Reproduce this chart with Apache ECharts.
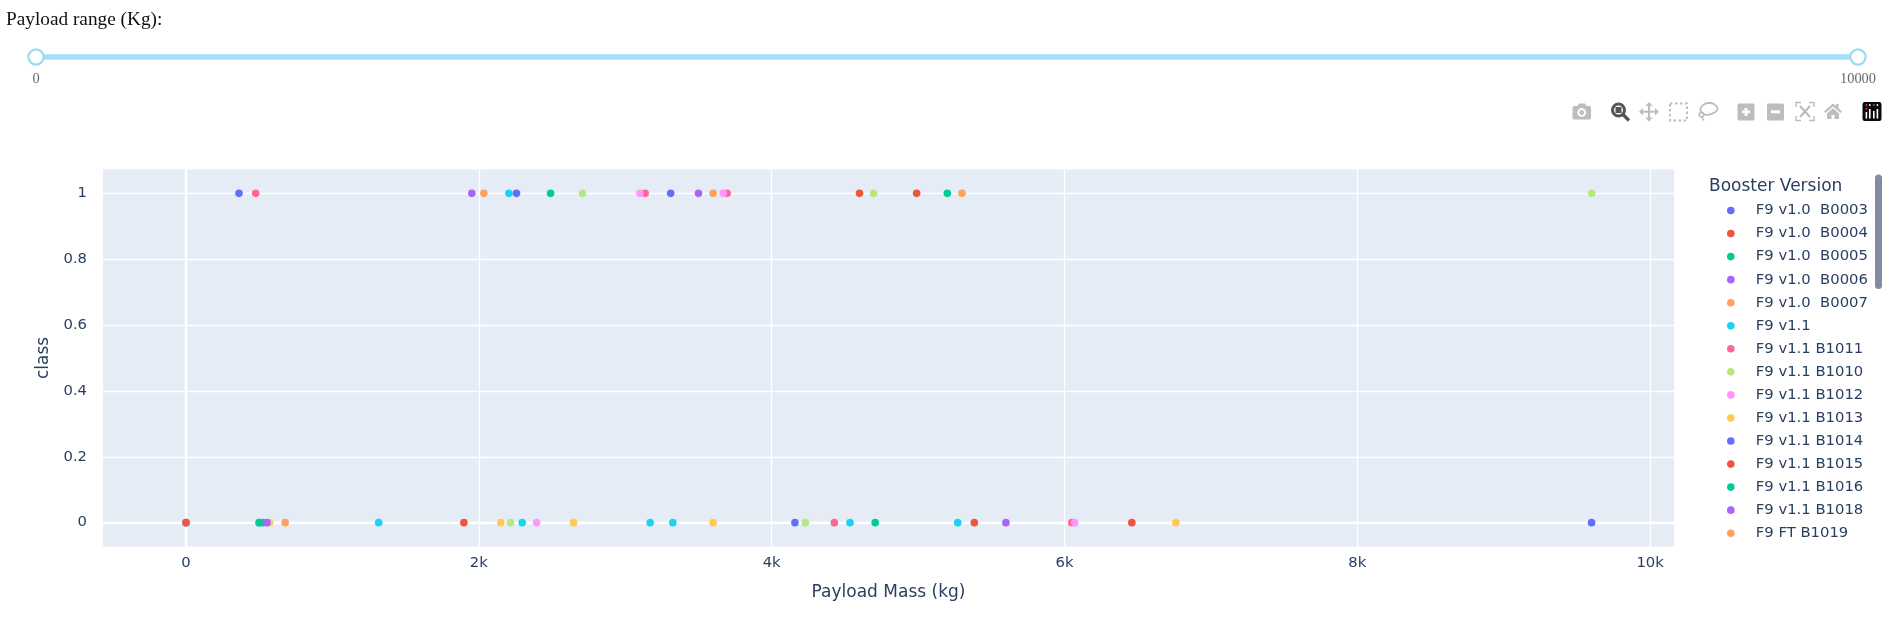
<!DOCTYPE html>
<html>
<head>
<meta charset="utf-8">
<style>html,body{margin:0;padding:0;background:#fff}#c{width:1896px;height:627px}</style>
<script src="https://cdn.jsdelivr.net/npm/echarts@6/dist/echarts.min.js"></script>
</head>
<body>
<div id="c"></div>
<script>
const palette = ['#636EFA','#EF553B','#00CC96','#AB63FA','#FFA15A','#19D3F3','#FF6692','#B6E880','#FF97FF','#FECB52'];
const boosterNames = ['F9 v1.0  B0003','F9 v1.0  B0004','F9 v1.0  B0005','F9 v1.0  B0006','F9 v1.0  B0007','F9 v1.1','F9 v1.1 B1011','F9 v1.1 B1010','F9 v1.1 B1012','F9 v1.1 B1013','F9 v1.1 B1014','F9 v1.1 B1015','F9 v1.1 B1016','F9 v1.1 B1018','F9 FT B1019','F9 FT B1020','F9 FT B1021.1','F9 FT B1022','F9 FT B1023.1','F9 FT B1024','F9 FT B1025.1','F9 FT B1026','F9 FT B1021.2','F9 FT B1029.1','F9 FT B1030','F9 FT B1031.1','F9 FT B1032.1','F9 FT B1034','F9 FT B1035.1','F9 FT B1036.1','F9 B4 B1039.1','F9 FT B1037','F9 B4 B1040.1','F9 B4 B1041.1','F9 FT B1038.1'];
const visibleLegendCount = 15;
// [payload mass, class] pairs for each booster, in the same order as boosterNames
const payloads = [
 [[0,0]],[[0,0]],[[525,0]],[[500,0]],[[677,0]],
 [[3170,0],[3325,0],[2296,0],[1316,0],[4535,0]],
 [[4428,0]],[[2216,0]],[[2395,0]],[[570,0]],[[4159,0]],[[1898,0]],
 [[4707,0],[500,0]],[[553,0]],[[2034,1]],
 [[5271,0]],[[3136,1]],[[4696,1]],[[3100,1]],[[3600,0]],[[2257,1]],[[4600,1]],
 [[2490,1]],[[1952,1],[5600,0]],[[5300,1]],[[2205,1]],
 [[3696,1],[476,1],[6050,0]],[[2708,1],[4230,0],[9600,1]],[[3669,1],[6070,0]],
 [[2150,0],[2647,0],[6761,0]],[[362,1],[3310,1],[9600,0]],[[4990,1],[5384,0],[6460,0]],
 [[5200,1]],[[3500,1]],[[3600,1]]
];
const xTicks = [0,2000,4000,6000,8000,10000];
const yTicks = [0,0.2,0.4,0.6,0.8,1];
const sliderLabels = ['0','10000'];

const ink = '#2a3f5f', sans = '"DejaVu Sans", Verdana, sans-serif', dim = '#bdbdbd', sliderBlue = '#a6dff8';
const stroke = (shape, type, color, w, extra) => ({type, shape, style:Object.assign({fill:'none',stroke:color||dim,lineWidth:w||2}, extra||{}), silent:true});
const solid = (shape, type, color) => ({type, shape, style:{fill:color||dim}, silent:true});

const graphics = [
 {type:'text', x:6, y:10, style:{text:'Payload range (Kg):', font:'19.3px "Liberation Serif", serif', fill:'#111'}},
 solid({x:36,y:54.2,width:1822,height:5.6},'rect',sliderBlue),
 {type:'circle', shape:{cx:36,cy:57,r:7.6}, style:{fill:'#fff',stroke:'#9bdcf2',lineWidth:2.2}},
 {type:'circle', shape:{cx:1858,cy:57,r:7.6}, style:{fill:'#fff',stroke:'#9bdcf2',lineWidth:2.2}},
 {type:'text', x:36, y:79, style:{text:sliderLabels[0], font:'14.4px "Liberation Serif", serif', fill:'#666', align:'center', verticalAlign:'middle'}},
 {type:'text', x:1858, y:79, style:{text:sliderLabels[1], font:'14.4px "Liberation Serif", serif', fill:'#666', align:'center', verticalAlign:'middle'}},
 // legend title & scrollbar
 {type:'text', x:1709, y:186.5, style:{text:'Booster Version', font:'17px '+sans, fill:ink, verticalAlign:'middle'}},
 solid({x:1875,y:174.5,width:7,height:114.5,r:3.5},'rect','#808ba4'),
 // camera
 solid({x:1572.5,y:106,width:18.5,height:13.5,r:1.5},'rect'),
 solid({points:[[1577,107],[1579,103.5],[1585,103.5],[1587,107]]},'polygon'),
 solid({cx:1581.7,cy:112.5,r:4.4},'circle','#fff'),
 solid({cx:1581.7,cy:112.5,r:2.4},'circle'),
 // zoom (active)
 stroke({cx:1618.5,cy:110,r:6},'circle','#555',3),
 solid({x:1615.5,y:107,width:6,height:6},'rect','#555'),
 stroke({x1:1623,y1:114.5,x2:1629,y2:120.5},'line','#555',3.2),
 // pan
 stroke({x1:1640,y1:111.7,x2:1658,y2:111.7},'line',dim,2),
 stroke({x1:1649,y1:103,x2:1649,y2:120.5},'line',dim,2),
 solid({points:[[1639,111.7],[1643,108],[1643,115.4]]},'polygon'),
 solid({points:[[1659,111.7],[1655,108],[1655,115.4]]},'polygon'),
 solid({points:[[1649,102],[1645.3,106],[1652.7,106]]},'polygon'),
 solid({points:[[1649,121.5],[1645.3,117.5],[1652.7,117.5]]},'polygon'),
 // box select
 stroke({x:1670,y:103.5,width:17,height:17},'rect',dim,2,{lineDash:[2.5,2.5]}),
 // lasso
 stroke({points:[[1700.5,109],[1704,104.5],[1709,103],[1714.5,104.5],[1717.5,108.5],[1714.5,112.5],[1709,114.5],[1704,114]],smooth:0.6},'polygon',dim,1.8),
 stroke({cx:1701.5,cy:114.5,r:2.3},'circle',dim,1.6),
 stroke({x1:1702,y1:117,x2:1703.5,y2:120.5},'line',dim,1.6),
 // plus, minus
 solid({x:1737.5,y:103.5,width:17,height:17,r:1.5},'rect'),
 solid({x:1742,y:110.5,width:8,height:2.8},'rect','#fff'),
 solid({x:1744.6,y:108,width:2.8,height:8},'rect','#fff'),
 solid({x:1767,y:103.5,width:17,height:17,r:1.5},'rect'),
 solid({x:1771,y:110.3,width:9,height:3},'rect','#fff'),
 // autoscale
 stroke({points:[[1796,107],[1796,102.5],[1801,102.5]]},'polyline',dim,1.4),
 stroke({points:[[1809,102.5],[1814,102.5],[1814,107]]},'polyline',dim,1.4),
 stroke({points:[[1796,116],[1796,120.5],[1801,120.5]]},'polyline',dim,1.4),
 stroke({points:[[1809,120.5],[1814,120.5],[1814,116]]},'polyline',dim,1.4),
 stroke({x1:1800,y1:106,x2:1810,y2:117},'line',dim,2.2),
 stroke({x1:1810,y1:106,x2:1800,y2:117},'line',dim,2.2),
 // home
 solid({points:[[1824,111.5],[1833,103.5],[1836,106],[1836,104],[1838.5,104],[1838.5,108.2],[1842,111.5],[1840.5,113],[1833,106.5],[1825.5,113]]},'polygon'),
 solid({points:[[1827,113.5],[1833,108.3],[1839,113.5],[1839,119],[1834.5,119],[1834.5,115],[1831.5,115],[1831.5,119],[1827,119]]},'polygon'),
 // plotly logo
 solid({x:1862.5,y:102,width:19,height:19,r:2.5},'rect','#0b0b0b'),
 ...[[1865.6,112,1.6,6.5],[1869,109,1.6,9.5],[1873,111,1.6,7.5],[1876.6,109,1.6,9.5]].map(b=>solid({x:b[0],y:b[1],width:b[2],height:b[3]},'rect','#fff')),
 ...[[1866.4,105],[1869.8,105],[1873.8,105],[1877.4,105],[1866.4,108.6]].map((p,i)=>solid({cx:p[0],cy:p[1],r:0.9},'circle',i%2?'#fff':'#ef3f6a'))
];

const series = boosterNames.map((name,i)=>({
 name, type:'scatter', symbol:'circle', symbolSize:7.6, data:payloads[i],
 itemStyle:{color:palette[i%palette.length], opacity:1}, emphasis:{disabled:true}
}));

const chart = echarts.init(document.getElementById('c'), null, {renderer:'canvas'});
chart.setOption({
 animation:false,
 color:palette,
 grid:{left:103, top:169.5, width:1571, height:377, show:true, backgroundColor:'#E5ECF6', borderWidth:0, containLabel:false},
 xAxis:{type:'value', min:-567, max:10163, name:'Payload Mass (kg)', nameLocation:'middle', nameGap:38,
  nameTextStyle:{color:ink, fontSize:17, fontFamily:sans},
  axisLine:{show:true, onZero:true, lineStyle:{color:'#fff', width:2.4}},
  axisTick:{show:false, customValues:xTicks},
  axisLabel:{customValues:xTicks, color:ink, fontSize:14.8, fontFamily:sans, margin:9, hideOverlap:false, formatter:v=>v===0?'0':(v/1000)+'k'},
  splitLine:{show:true, lineStyle:{color:'#fff', width:1.3}}},
 yAxis:{type:'value', min:-0.0725, max:1.0725, name:'class', nameLocation:'middle', nameGap:50,
  nameTextStyle:{color:ink, fontSize:17, fontFamily:sans},
  axisLine:{show:true, onZero:true, lineStyle:{color:'#fff', width:2.4}},
  axisTick:{show:false, customValues:yTicks},
  axisLabel:{customValues:yTicks, color:ink, fontSize:14.8, fontFamily:sans, margin:16, formatter:v=>String(v)},
  splitLine:{show:true, lineStyle:{color:'#fff', width:1.3}}},
 legend:{type:'plain', orient:'vertical', left:1727, top:203, padding:0, itemGap:8.05, itemWidth:40, itemHeight:7.6, icon:'circle',
  data:boosterNames.slice(0,visibleLegendCount), selectedMode:false, inactiveColor:'#ccc',
  textStyle:{color:ink, fontSize:14.8, fontFamily:sans, lineHeight:15}},
 tooltip:{show:false},
 graphic:{elements:graphics},
 series
});
</script>
</body>
</html>
